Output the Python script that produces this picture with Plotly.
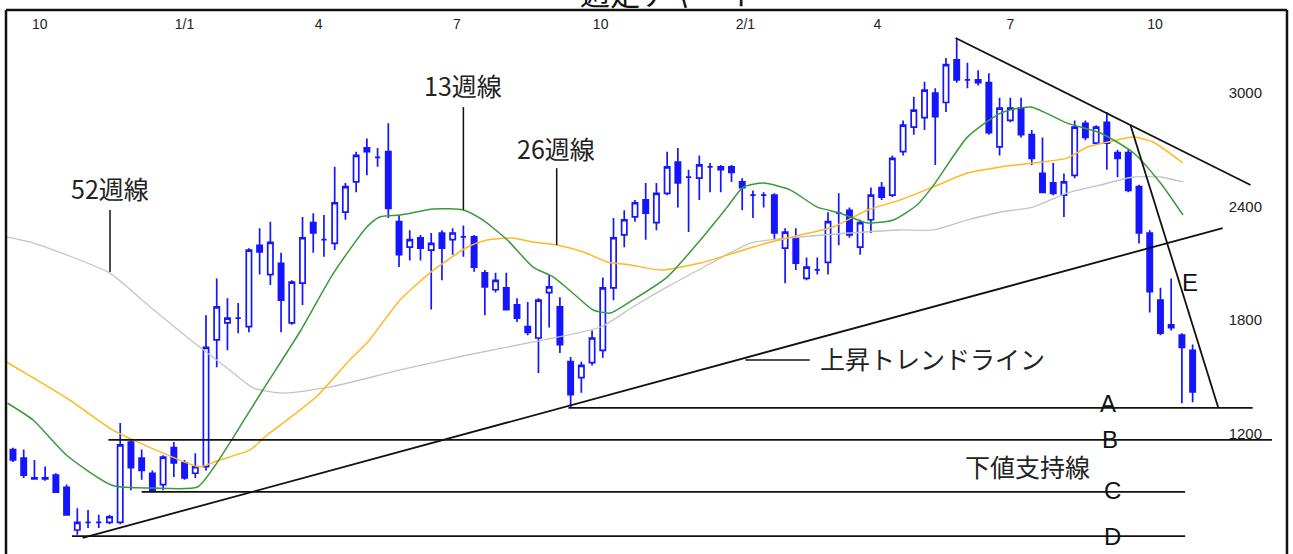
import plotly.graph_objects as go

# ---------------- data ----------------
weeks = list(range(111))
opens = [1115, 1070, 965, 960, 980, 915, 690, 730, 730, 730,
         730, 1155, 1070, 990, 930, 1125, 1045, 990, 1025, 1695,
         1785, 1810, 1765, 2195, 2040, 2100, 1785, 1995, 2315, 2225,
         2205, 2370, 2530, 2710, 2660, 2690, 2320, 2185, 2235, 2170,
         2260, 2225, 2240, 2240, 2050, 1960, 1970, 1880, 1765, 1705,
         1945, 1870, 1580, 1495, 1575, 1640, 1970, 2250, 2345, 2435,
         2315, 2470, 2635, 2555, 2550, 2610, 2610, 2610, 2530, 2460,
         2460, 2460, 2180, 2235, 2020, 2065, 2105, 2365, 2380, 2185,
         2330, 2500, 2460, 2690, 2820, 2870, 3000, 2950, 3175, 3070,
         3070, 3055, 2715, 2855, 2920, 2780, 2575, 2525, 2460, 2565,
         2840, 2735, 2845, 2685, 2685, 2505, 2260, 1905, 1775, 1720,
         1640]
highs = [1125, 1115, 1060, 1025, 990, 930, 805, 795, 770, 770,
         1255, 1165, 1115, 1005, 1085, 1155, 1060, 1095, 1825, 2020,
         1915, 1890, 2180, 2285, 2320, 2155, 2010, 2345, 2365, 2355,
         2610, 2525, 2690, 2760, 2710, 2840, 2355, 2275, 2250, 2260,
         2275, 2285, 2300, 2250, 2065, 2050, 2050, 1915, 1895, 1915,
         2040, 1920, 1605, 1580, 1745, 2025, 2340, 2380, 2435, 2525,
         2525, 2690, 2710, 2595, 2670, 2630, 2620, 2620, 2550, 2485,
         2475, 2470, 2285, 2285, 2130, 2130, 2370, 2470, 2395, 2330,
         2500, 2530, 2670, 2855, 2980, 3060, 3025, 3185, 3290, 3160,
         3120, 3105, 2975, 2975, 2975, 2805, 2765, 2630, 2575, 2855,
         2855, 2830, 2900, 2700, 2700, 2515, 2275, 1970, 2020, 1730,
         1670]
lows = [1050, 965, 955, 950, 890, 770, 665, 700, 700, 720,
        720, 900, 955, 890, 900, 970, 955, 965, 1005, 1550,
        1640, 1730, 1735, 2040, 1985, 1735, 1775, 1880, 2155, 2135,
        2170, 2330, 2475, 2565, 2610, 2340, 2080, 2115, 2115, 1855,
        2010, 2145, 2135, 2055, 1825, 1945, 1855, 1790, 1720, 1520,
        1760, 1625, 1335, 1415, 1560, 1600, 1905, 2185, 2320, 2225,
        2275, 2460, 2395, 2265, 2435, 2475, 2475, 2530, 2380, 2340,
        2395, 2225, 1995, 2065, 2010, 2040, 2040, 2195, 2235, 2145,
        2260, 2435, 2450, 2670, 2780, 2805, 2620, 2900, 3055, 3025,
        3040, 2780, 2670, 2845, 2765, 2620, 2470, 2460, 2345, 2550,
        2750, 2725, 2595, 2555, 2475, 2205, 1840, 1720, 1745, 1360,
        1365]
closes = [1060, 980, 960, 965, 890, 770, 730, 730, 730, 760,
          1140, 1020, 1005, 900, 1075, 1045, 965, 1025, 1655, 1870,
          1810, 1810, 2170, 2160, 2210, 1905, 2000, 2235, 2260, 2225,
          2420, 2505, 2670, 2690, 2660, 2390, 2145, 2225, 2180, 2205,
          2180, 2260, 2240, 2080, 1975, 2010, 1855, 1810, 1735, 1905,
          1975, 1670, 1405, 1560, 1705, 1970, 2235, 2330, 2420, 2365,
          2470, 2610, 2525, 2555, 2620, 2610, 2595, 2580, 2500, 2460,
          2460, 2260, 2265, 2100, 2080, 2065, 2320, 2365, 2250, 2315,
          2460, 2450, 2655, 2830, 2910, 3015, 2875, 3150, 3070, 3070,
          3055, 2790, 2920, 2920, 2780, 2655, 2475, 2470, 2530, 2820,
          2765, 2820, 2735, 2655, 2485, 2260, 1950, 1730, 1760, 1655,
          1420]

# moving averages (week position, price)
ma13_x = [-0.5, 1.9, 5.0, 9.3, 13.1, 17.2, 18.7, 20.5, 23.3, 26.8, 29.9, 33.0, 34.2,
          36.1, 39.2, 42.0, 43.8, 46.1, 48.5, 50.4, 52.2, 54.1, 55.7, 57.8, 61.0,
          64.1, 66.6, 68.1, 70.0, 72.5, 75.0, 77.1, 79.7, 82.1, 84.3, 85.8, 89.0,
          92.1, 94.9, 98.3, 101.4, 104.5, 107.0, 109.1]
ma13_y = [1360, 1270, 1085, 925, 912, 917, 1018, 1176, 1430, 1742, 2049, 2292, 2345,
          2355, 2387, 2382, 2329, 2223, 2080, 2027, 1943, 1853, 1837, 1906, 2027,
          2223, 2397, 2503, 2524, 2487, 2397, 2366, 2313, 2329, 2408, 2509, 2767,
          2894, 2926, 2841, 2789, 2683, 2524, 2355]
ma26_x = [-0.6, 1.9, 5.0, 9.0, 11.2, 14.4, 17.4, 19.0, 22.1, 23.7, 25.2, 28.4, 31.4,
          33.0, 36.1, 39.2, 42.4, 44.2, 46.6, 48.5, 50.7, 53.2, 55.4, 57.6, 60.4,
          64.1, 67.2, 70.3, 73.4, 76.5, 79.7, 82.7, 85.8, 89.0, 92.1, 95.1, 98.3,
          100.2, 103.0, 104.5, 106.3, 109.1]
ma26_y = [1578, 1494, 1388, 1229, 1166, 1087, 1023, 1055, 1113, 1192, 1256, 1400, 1589,
          1678, 1906, 2064, 2186, 2223, 2234, 2212, 2197, 2160, 2107, 2091, 2064,
          2101, 2154, 2207, 2249, 2292, 2382, 2434, 2503, 2577, 2609, 2630, 2656,
          2715, 2752, 2767, 2741, 2630]
ma52_x = [-0.6, 1.9, 5.0, 9.0, 12.8, 17.4, 20.2, 22.4, 25.2, 29.6, 36.1, 42.4, 48.5,
          54.8, 57.8, 61.0, 64.1, 68.8, 73.4, 78.1, 82.7, 85.8, 89.0, 92.1, 95.1,
          98.3, 101.4, 104.5, 107.0, 109.1]
ma52_y = [2239, 2207, 2144, 2049, 1869, 1657, 1536, 1441, 1414, 1446, 1536, 1615, 1684,
          1763, 1869, 1975, 2070, 2207, 2239, 2260, 2276, 2276, 2329, 2371, 2397,
          2471, 2514, 2556, 2556, 2530]

# axis ticks
x_tick_pos = [2.5, 16.0, 28.5, 41.4, 54.8, 68.3, 80.6, 93.0, 106.5]
x_tick_txt = ["10", "1/1", "4", "7", "10", "2/1", "4", "7", "10"]
y_tick_vals = [1200, 1800, 2400, 3000]

# drawn lines (start week, end week, start price, end price)
trend_up = ([6.5, 112.8], [648, 2286])
trend_down = ([87.9, 115.4], [3291, 2514])
trend_e = ([104.2, 112.4], [2831, 1335])
support_names = ["A", "B", "C", "D"]
support_levels = [1335, 1166, 891, 658]
support_start = [51.8, 8.9, 12.0, 5.5]
support_end = [115.6, 117.4, 109.3, 109.3]
support_label_x = [102.1, 102.3, 102.5, 102.5]
support_label_y = [1361, 1166, 901, 653]

# ---------------- figure ----------------
BLUE = "#1515ff"
fig = go.Figure()

fig.add_trace(go.Scatter(x=ma52_x, y=ma52_y, mode="lines",
                         line=dict(color="#c4c4c4", width=1.3, shape="spline", smoothing=0.6),
                         hoverinfo="skip"))
fig.add_trace(go.Scatter(x=ma26_x, y=ma26_y, mode="lines",
                         line=dict(color="#ffb820", width=1.5, shape="spline", smoothing=0.6),
                         hoverinfo="skip"))
fig.add_trace(go.Scatter(x=ma13_x, y=ma13_y, mode="lines",
                         line=dict(color="#3a9a3a", width=1.5, shape="spline", smoothing=0.6),
                         hoverinfo="skip"))

fig.add_trace(go.Candlestick(
    x=weeks, open=opens, high=highs, low=lows, close=closes,
    increasing=dict(line=dict(color=BLUE, width=1.7), fillcolor="white"),
    decreasing=dict(line=dict(color=BLUE, width=1.7), fillcolor=BLUE),
    whiskerwidth=0, hoverinfo="skip"))

line_style = dict(color="#111111", width=1.8)
for xs, ys in (trend_up, trend_down, trend_e):
    fig.add_trace(go.Scatter(x=xs, y=ys, mode="lines", line=line_style, hoverinfo="skip"))
for s, e, lv in zip(support_start, support_end, support_levels):
    fig.add_trace(go.Scatter(x=[s, e], y=[lv, lv], mode="lines", line=line_style, hoverinfo="skip"))

# leader lines for labels
leaders = [([9.05, 9.05], [2382, 2054]),
           ([42.0, 42.0], [2926, 2382]),
           ([50.7, 50.7], [2603, 2197]),
           ([68.3, 74.3], [1589, 1589])]
for xs, ys in leaders:
    fig.add_trace(go.Scatter(x=xs, y=ys, mode="lines",
                             line=dict(color="#111111", width=1.5), hoverinfo="skip"))

JP = "Noto Sans CJK JP"
jp_labels = [("52週線", 9.05, 2498, "center"),
             ("13週線", 42.0, 3042, "center"),
             ("26週線", 50.6, 2709, "center"),
             ("上昇トレンドライン", 75.1, 1599, "left"),
             ("下値支持線", 94.6, 1028, "center")]
for txt, xx, yy, anc in jp_labels:
    fig.add_annotation(x=xx, y=yy, text=txt, showarrow=False, xanchor=anc, yanchor="middle",
                       font=dict(family=JP, size=25, color="#222222"))

for name, xx, yy in zip(support_names, support_label_x, support_label_y):
    fig.add_annotation(x=xx, y=yy, text=name, showarrow=False, xanchor="center", yanchor="middle",
                       font=dict(family="Liberation Sans", size=24, color="#111111"))
fig.add_annotation(x=109.8, y=1996, text="E", showarrow=False, xanchor="center", yanchor="middle",
                   font=dict(family="Liberation Sans", size=24, color="#111111"))

# partially visible title
fig.add_annotation(xref="paper", yref="paper", x=0.518, y=1.0, yshift=18, text="週足チャート",
                   showarrow=False, xanchor="center", yanchor="middle",
                   font=dict(family=JP, size=30, color="#111111"))

# frame
for x0, y0, x1, y1 in [(0, 1, 1, 1), (0, 0, 0, 1), (1, 0, 1, 1)]:
    fig.add_shape(type="line", xref="paper", yref="paper", x0=x0, y0=y0, x1=x1, y1=y1,
                  line=dict(color="#111111", width=2.5))

fig.update_layout(
    width=1293, height=554,
    margin=dict(l=6, r=6, t=10, b=0),
    paper_bgcolor="white", plot_bgcolor="white",
    showlegend=False,
    xaxis=dict(range=[-0.65, 118.8], side="top", tickmode="array",
               tickvals=x_tick_pos, ticktext=x_tick_txt,
               ticklabelposition="inside", ticks="", ticklabelstandoff=6,
               showgrid=False, zeroline=False, showline=False,
               rangeslider=dict(visible=False),
               tickfont=dict(family="Liberation Sans", size=14, color="#222222")),
    yaxis=dict(range=[563, 3439], side="right", tickmode="array", tickvals=y_tick_vals,
               ticklabelposition="inside", ticks="", ticklabelstandoff=22,
               showgrid=False, zeroline=False, showline=False,
               tickfont=dict(family="Liberation Sans", size=15, color="#222222")),
)

fig.write_html("out.html", config={"displayModeBar": False},
               post_script="document.body.style.margin='0px';document.body.style.overflow='hidden';")
